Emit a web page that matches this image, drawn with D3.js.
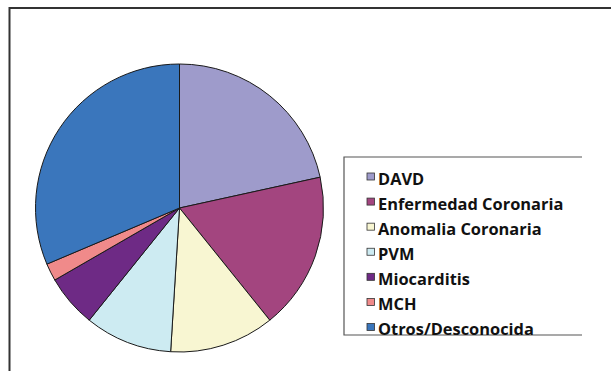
<!DOCTYPE html>
<html>
<head>
<meta charset="utf-8">
<script src="https://cdn.jsdelivr.net/npm/d3@7/dist/d3.min.js"></script>
<style>
  html, body { margin: 0; padding: 0; background: #fff; }
  svg { display: block; }
</style>
</head>
<body>
<svg id="chart" width="611" height="371"></svg>
<script>
// Causes of sudden death (case counts)
const categories = ["DAVD", "Enfermedad Coronaria", "Anomalia Coronaria", "PVM", "Miocarditis", "MCH", "Otros/Desconocida"];
const counts = [11, 9, 6, 5, 3, 1, 16];
const colors = ["#9e9bcb", "#a3457f", "#f8f6d2", "#cdebf2", "#6e2a85", "#f08a8a", "#3a76bc"];

const svg = d3.select("#chart");

// outer chart frame (open to the right and bottom)
svg.append("path")
  .attr("d", "M9.5,371 L9.5,8 L611,8")
  .attr("fill", "none")
  .attr("stroke", "#333")
  .attr("stroke-width", 2);

const cx = 179.5, cy = 208, r = 144;

const pie = d3.pie().sort(null).value(d => d.v);
const arc = d3.arc().innerRadius(0).outerRadius(r);
const data = categories.map((c, i) => ({ name: c, v: counts[i], color: colors[i] }));

svg.append("g")
  .attr("transform", `translate(${cx},${cy})`)
  .selectAll("path")
  .data(pie(data))
  .join("path")
  .attr("d", arc)
  .attr("fill", d => d.data.color)
  .attr("stroke", "#1a1a1a")
  .attr("stroke-width", 1)
  .attr("stroke-linejoin", "round");

// legend box: left, top and bottom edges
const lx = 344, ly = 157, lr = 582, lb = 335;
svg.append("path")
  .attr("d", `M${lr},${ly} L${lx},${ly} L${lx},${lb} L${lr},${lb}`)
  .attr("fill", "none")
  .attr("stroke", "#555")
  .attr("stroke-width", 1.2);

const rowY = d3.scalePoint().domain(categories).range([184.5, 335]);

const items = svg.append("g").selectAll("g")
  .data(data)
  .join("g")
  .attr("transform", d => `translate(0,${rowY(d.name)})`);

items.append("rect")
  .attr("x", 367).attr("y", -11.5)
  .attr("width", 7.5).attr("height", 7)
  .attr("fill", d => d.color)
  .attr("stroke", "#333")
  .attr("stroke-width", 0.8);

items.append("text")
  .attr("x", 378)
  .attr("y", 0)
  .attr("font-family", "'Open Sans', sans-serif")
  .attr("font-weight", 700)
  .attr("font-size", 16.4)
  .attr("fill", "#111")
  .text(d => d.name);
</script>
</body>
</html>
